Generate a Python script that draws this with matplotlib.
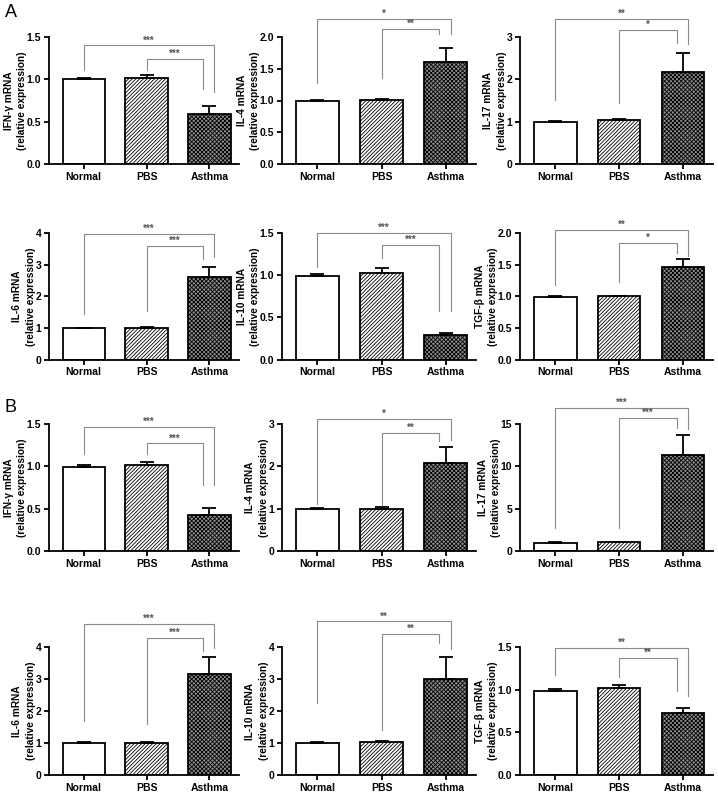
import numpy as np
import matplotlib
matplotlib.use("Agg")
import matplotlib.pyplot as plt

plt.rcParams['font.family'] = ['Liberation Sans', 'DejaVu Sans']
plt.rcParams['font.weight'] = 'bold'
plt.rcParams['hatch.linewidth'] = 0.6

groups = ['Normal', 'PBS', 'Asthma']
genes = ['IFN-γ', 'IL-4', 'IL-17', 'IL-6', 'IL-10', 'TGF-β']

# panel A
means_A = [[1.0, 1.01, 0.59], [1.0, 1.01, 1.61], [0.99, 1.04, 2.18],
           [0.99, 1.01, 2.62], [0.99, 1.03, 0.29], [0.99, 1.0, 1.47]]
errs_A = [[0.02, 0.04, 0.09], [0.01, 0.02, 0.22], [0.02, 0.03, 0.45],
          [0.02, 0.03, 0.30], [0.02, 0.06, 0.03], [0.02, 0.01, 0.12]]
ymax_A = [1.5, 2.0, 3, 4, 1.5, 2.0]
ystep_A = [0.5, 0.5, 1, 1, 0.5, 0.5]
stars_A = [('***', '***'), ('*', '**'), ('**', '*'), ('***', '***'), ('***', '***'), ('**', '*')]

# panel B
means_B = [[0.99, 1.01, 0.43], [1.0, 1.0, 2.08], [1.0, 1.05, 11.3],
           [1.0, 1.01, 3.16], [1.0, 1.03, 3.0], [0.99, 1.02, 0.73]]
errs_B = [[0.02, 0.04, 0.08], [0.02, 0.04, 0.37], [0.02, 0.03, 2.35],
          [0.02, 0.02, 0.52], [0.02, 0.03, 0.70], [0.02, 0.04, 0.06]]
ymax_B = [1.5, 3, 15, 4, 4, 1.5]
ystep_B = [0.5, 1, 5, 1, 1, 0.5]
stars_B = [('***', '***'), ('*', '**'), ('***', '***'), ('***', '***'), ('**', '**'), ('**', '**')]

# bracket heights: outer, inner, normal leg end, pbs leg end, asthma inner leg end, asthma outer leg end
brk_A = [(1.40, 1.245, 1.115, 1.115, 0.89, 0.85), (2.29, 2.13, 1.28, 1.35, 2.04, 2.04),
         (3.42, 3.16, 1.51, 1.43, 2.87, 2.83), (3.98, 3.58, 1.45, 1.52, 3.19, 3.24),
         (1.50, 1.36, 1.10, 1.20, 0.57, 0.57), (2.05, 1.84, 1.18, 1.22, 1.68, 1.63)]
brk_B = [(1.47, 1.27, 1.15, 1.15, 0.78, 0.78), (3.12, 2.79, 1.10, 1.06, 2.59, 2.63),
         (16.9, 15.7, 2.75, 2.70, 14.5, 14.4), (4.72, 4.28, 1.70, 1.59, 3.89, 3.98),
         (4.80, 4.40, 2.25, 1.41, 4.13, 3.93), (1.49, 1.37, 1.17, 1.15, 0.98, 0.92)]

W, H = 718, 794
fig = plt.figure(figsize=(W/100, H/100), dpi=100)

rows_px = [(37, 164), (233, 359.5), (424, 551), (647, 775)]
cols_px = [(49, 239), (282, 476), (520, 713)]

faces = ['white', 'white', '#8f8f8f']
hatches = [None, '/'*9, 'x'*8]
x = np.arange(3)


def bracket(ax, x1, x2, y, b1, b2, txt, fs):
    ax.plot([x1, x1, x2, x2], [b1, y, y, b2], color='#8a8a8a', lw=0.8, clip_on=False)
    ax.text((x1+x2)/2, y, txt, ha='center', va='bottom', fontsize=fs, color='#555555')


def draw(ax, gene, m, e, ymax, step, st, br):
    for i in range(3):
        ax.bar(x[i], m[i], 0.67, color=faces[i], edgecolor='black', linewidth=1.3,
               hatch=hatches[i], zorder=2)
    ax.errorbar(x, m, yerr=[[0, 0, 0], e], fmt='none', ecolor='black', elinewidth=1.3,
                capsize=5, capthick=1.3, zorder=3)
    ax.set_xlim(-0.55, 2.47)
    ax.set_ylim(0, ymax)
    ticks = np.arange(0, ymax + step/2, step)
    ax.set_yticks(ticks)
    if step < 1:
        ax.set_yticklabels(['%.1f' % t for t in ticks])
    else:
        ax.set_yticklabels(['%d' % t for t in ticks])
    ax.set_xticks(x)
    ax.set_xticklabels(groups)
    for s in ['top', 'right']:
        ax.spines[s].set_visible(False)
    for s in ['left', 'bottom']:
        ax.spines[s].set_linewidth(1.3)
    ax.tick_params(axis='both', width=1.3, length=3.5, labelsize=7.5, pad=2)
    ax.set_ylabel(gene + ' mRNA\n(relative expression)', fontsize=7.3, fontweight='bold',
                  linespacing=1.4, labelpad=0)
    out, inn, bn, bp, bai, bao = br
    bracket(ax, 0, 2.08, out, bn, bao, st[0], 7)
    bracket(ax, 1, 1.9, inn, bp, bai, st[1], 7)


sets = [(means_A, errs_A, ymax_A, ystep_A, stars_A, brk_A),
        (means_B, errs_B, ymax_B, ystep_B, stars_B, brk_B)]
for p, (ms, es, ym, ys, sts, brs) in enumerate(sets):
    for k in range(6):
        r = p*2 + k // 3
        c = k % 3
        y0, y1 = rows_px[r]
        x0, x1 = cols_px[c]
        ax = fig.add_axes([x0/W, 1 - y1/H, (x1-x0)/W, (y1-y0)/H])
        draw(ax, genes[k], ms[k], es[k], ym[k], ys[k], sts[k], brs[k])

fig.text(5/W, 1 - 4/H, 'A', fontsize=13, fontweight='normal', va='top', ha='left')
fig.text(5/W, 1 - 399/H, 'B', fontsize=13, fontweight='normal', va='top', ha='left')

fig.savefig('out.png', dpi=100)
